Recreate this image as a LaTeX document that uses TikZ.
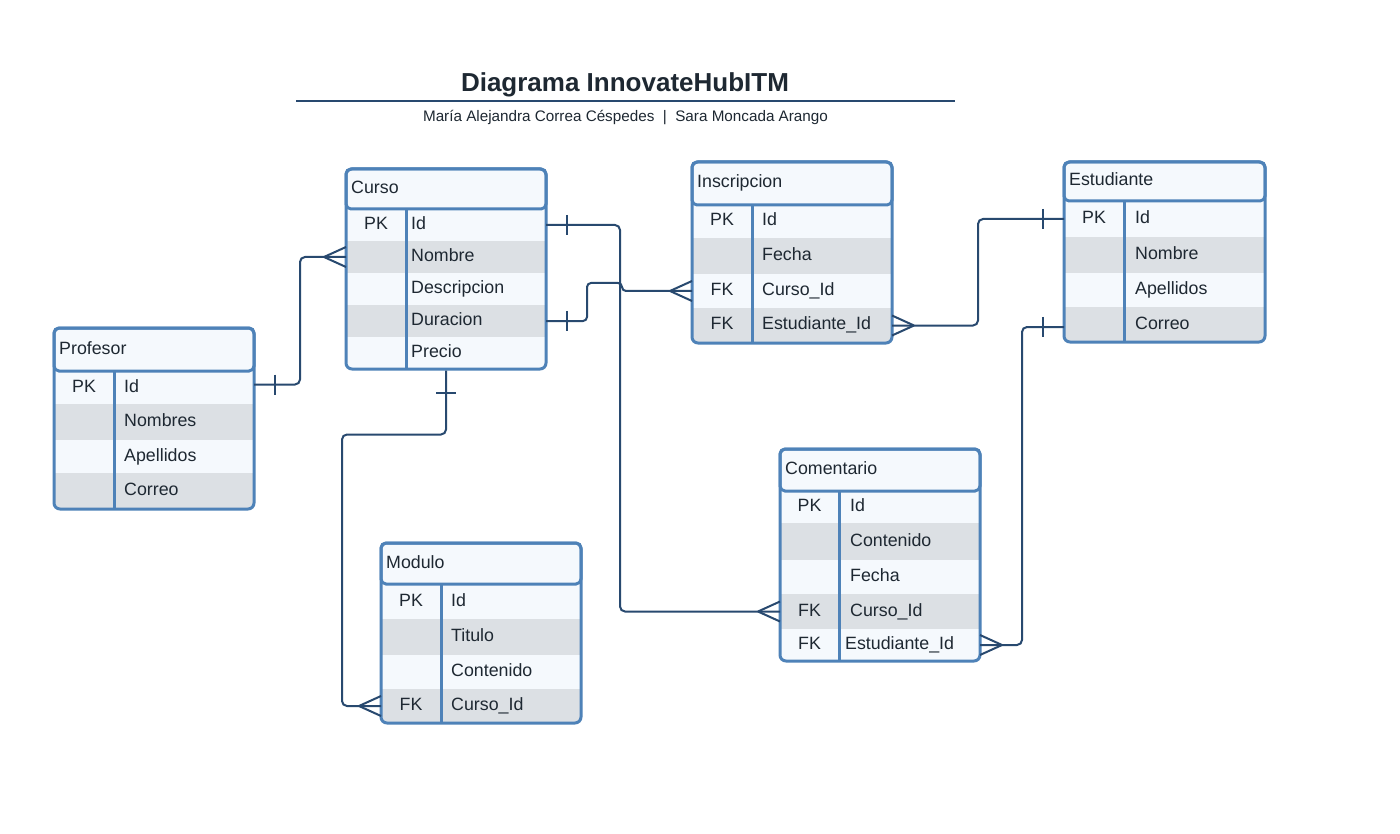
\documentclass[tikz,border=0pt]{standalone}
\usepackage{fontspec}
\setmainfont{Liberation Sans}
\usetikzlibrary{calc}
\definecolor{tblborder}{HTML}{4E82B8}
\definecolor{rowlight}{HTML}{F5F9FD}
\definecolor{rowgray}{HTML}{DCE0E4}
\definecolor{connblue}{HTML}{28496F}
\definecolor{ink}{HTML}{1E2832}
\tikzset{
  rowbox/.style={draw=none, inner sep=0pt, outer sep=0pt},
  keytext/.style={inner sep=0pt, text height=12.7pt, text depth=3.7pt, font=\fontsize{17.8}{20}\selectfont, text=ink},
  fieldtext/.style={keytext, anchor=west},
  headtext/.style={keytext, anchor=west},
  tblframe/.style={draw=tblborder, line width=3pt, rounded corners=6pt, inner sep=0pt},
  headbox/.style={draw=tblborder, fill=rowlight, line width=3pt, rounded corners=5pt, inner sep=0pt},
  divline/.style={draw=tblborder, line width=3pt},
  conn/.style={draw=connblue, line width=2pt, rounded corners=5pt},
  endline/.style={draw=connblue, line width=2pt},
}
\def\fieldoff{10}
% row: name, x1, xdiv, x2, ytop, ybot, fill, key, field
\newcommand\erRow[9]{%
  \node[rowbox, fill=#7, minimum width={(#4-#2)*1pt}, minimum height={(#6-#5)*1pt}] (#1) at ({(#2+#4)/2},{(#5+#6)/2}) {};
  \node[keytext] (#1-k) at ({(#2+#3)/2},{(#5+#6)/2}) {#8};
  \node[fieldtext] (#1-f) at ({#3+\fieldoff},{(#5+#6)/2}) {#9};
}
% table frame: name, x1, xdiv, x2, ytop, yhb, ybot, title
\newcommand\erHead[8]{%
  \node[headbox, minimum width={(#4-#2)*1pt}, minimum height={(#6-#5)*1pt}] (#1-head) at ({(#2+#4)/2},{(#5+#6)/2}) {};
  \node[headtext] (#1-title) at ({#2+5},{(#5+#6)/2}) {#8};
  \draw[divline] (#3,#6) -- (#3,#7);
  \node[tblframe, minimum width={(#4-#2)*1pt}, minimum height={(#7-#5)*1pt}] (#1) at ({(#2+#4)/2},{(#5+#7)/2}) {};
}
\newcommand\erCrowW[1]{\draw[endline] ($(#1)+(-22,0)$) -- ($(#1)+(0,-10)$) ($(#1)+(-22,0)$) -- ($(#1)+(0,10)$);}
\newcommand\erCrowE[1]{\draw[endline] ($(#1)+(22,0)$) -- ($(#1)+(0,-10)$) ($(#1)+(22,0)$) -- ($(#1)+(0,10)$);}
\newcommand\erBarW[1]{\draw[endline] ($(#1)+(-21,-10)$) -- ($(#1)+(-21,10)$);}
\newcommand\erBarE[1]{\draw[endline] ($(#1)+(21,-10)$) -- ($(#1)+(21,10)$);}
\newcommand\erBarS[1]{\draw[endline] ($(#1)+(-10,22)$) -- ($(#1)+(10,22)$);}
\begin{document}
\begin{tikzpicture}[x=1pt,y=-1pt]
\useasboundingbox[fill=white] (0,0) rectangle (1400,834);

% Title
\node[font=\fontsize{26}{30}\selectfont\bfseries, text=ink, inner sep=0pt] (title) at (625,84.5) {Diagrama InnovateHubITM};
\coordinate (tl) at (296,101);
\coordinate (tr) at (955,101);
\draw[connblue, line width=2pt] (tl) -- (tr);
\node[font=\fontsize{15.25}{18}\selectfont, text=ink, inner sep=0pt] (subtitle) at (625.5,117.5) {María Alejandra Correa Céspedes\ \ |\ \ Sara Moncada Arango};

% Curso
\def\fieldoff{5}
\begin{scope}
\clip[rounded corners=6pt] (346,169) rectangle (546,369);
\erRow{curso-id}{346}{406}{546}{209}{241}{rowlight}{PK}{Id}
\erRow{curso-nombre}{346}{406}{546}{241}{273}{rowgray}{}{Nombre}
\erRow{curso-desc}{346}{406}{546}{273}{305}{rowlight}{}{Descripcion}
\erRow{curso-dur}{346}{406}{546}{305}{337}{rowgray}{}{Duracion}
\erRow{curso-precio}{346}{406}{546}{337}{369}{rowlight}{}{Precio}
\end{scope}
\erHead{curso}{346}{406}{546}{169}{209}{369}{Curso}
\def\fieldoff{10}

% Inscripcion
\begin{scope}
\clip[rounded corners=6pt] (692,162) rectangle (892,343);
\erRow{ins-id}{692}{752}{892}{205}{238}{rowlight}{PK}{Id}
\erRow{ins-fecha}{692}{752}{892}{238}{274}{rowgray}{}{Fecha}
\erRow{ins-curso}{692}{752}{892}{274}{308}{rowlight}{FK}{Curso\_Id}
\erRow{ins-est}{692}{752}{892}{308}{343}{rowgray}{FK}{Estudiante\_Id}
\end{scope}
\erHead{ins}{692}{752}{892}{162}{205}{343}{Inscripcion}

% Estudiante
\def\fieldoff{11}
\begin{scope}
\clip[rounded corners=6pt] (1064,162) rectangle (1265,342);
\erRow{est-id}{1064}{1124}{1265}{201}{237}{rowlight}{PK}{Id}
\erRow{est-nombre}{1064}{1124}{1265}{237}{273}{rowgray}{}{Nombre}
\erRow{est-apellidos}{1064}{1124}{1265}{273}{307}{rowlight}{}{Apellidos}
\erRow{est-correo}{1064}{1124}{1265}{307}{342}{rowgray}{}{Correo}
\end{scope}
\erHead{est}{1064}{1124}{1265}{162}{201}{342}{Estudiante}
\def\fieldoff{10}

% Profesor
\begin{scope}
\clip[rounded corners=6pt] (54,328) rectangle (254,509);
\erRow{prof-id}{54}{114}{254}{371}{404}{rowlight}{PK}{Id}
\erRow{prof-nombres}{54}{114}{254}{404}{440}{rowgray}{}{Nombres}
\erRow{prof-apellidos}{54}{114}{254}{440}{473}{rowlight}{}{Apellidos}
\erRow{prof-correo}{54}{114}{254}{473}{509}{rowgray}{}{Correo}
\end{scope}
\erHead{prof}{54}{114}{254}{328}{371}{509}{Profesor}

% Modulo
\begin{scope}
\clip[rounded corners=6pt] (381,543) rectangle (581,723);
\erRow{mod-id}{381}{441}{581}{584}{619}{rowlight}{PK}{Id}
\erRow{mod-titulo}{381}{441}{581}{619}{655}{rowgray}{}{Titulo}
\erRow{mod-contenido}{381}{441}{581}{655}{689}{rowlight}{}{Contenido}
\erRow{mod-curso}{381}{441}{581}{689}{723}{rowgray}{FK}{Curso\_Id}
\end{scope}
\erHead{mod}{381}{441}{581}{543}{584}{723}{Modulo}

% Comentario
\def\fieldoff{11}
\begin{scope}
\clip[rounded corners=6pt] (780,449) rectangle (980,661);
\erRow{com-id}{780}{839}{980}{491}{523}{rowlight}{PK}{Id}
\erRow{com-contenido}{780}{839}{980}{523}{560}{rowgray}{}{Contenido}
\erRow{com-fecha}{780}{839}{980}{560}{594}{rowlight}{}{Fecha}
\erRow{com-curso}{780}{839}{980}{594}{629}{rowgray}{FK}{Curso\_Id}
\def\fieldoff{6}
\erRow{com-est}{780}{839}{980}{629}{661}{rowlight}{FK}{Estudiante\_Id}
\end{scope}
\erHead{com}{780}{839}{980}{449}{491}{661}{Comentario}
\def\fieldoff{10}

% Connectors
% Profesor.Id -> Curso
\draw[conn] ([yshift=3pt]prof-id.east) -- ++(46,0) |- (curso-nombre.west);
\erBarE{[yshift=3pt]prof-id.east}
\erCrowW{curso-nombre.west}

% Curso.Id -> Comentario.Curso_Id
\draw[conn] (curso-id.east) -- ++(74,0) |- (com-curso.west);
\erBarE{curso-id.east}
\erCrowW{com-curso.west}

% Curso.Duracion -> Inscripcion.Curso_Id
\draw[conn, rounded corners=4pt] (curso-dur.east) -| ++(41,-38) -- ++(35,0) |- (ins-curso.west);
\erBarE{curso-dur.east}
\erCrowW{ins-curso.west}

% Inscripcion.Estudiante_Id -> Estudiante.Id
\draw[conn] (ins-est.east) -- ++(86,0) |- (est-id.west);
\erCrowE{ins-est.east}
\erBarW{est-id.west}

% Comentario.Estudiante_Id -> Estudiante.Correo
\draw[conn] (com-est.east) -- ++(42,0) |- ([yshift=-2.5pt]est-correo.west);
\erCrowE{com-est.east}
\erBarW{[yshift=-2.5pt]est-correo.west}

% Curso -> Modulo.Curso_Id
\draw[conn] (curso.south) |- ++(-104,64) |- (mod-curso.west);
\erBarS{curso.south}
\erCrowW{mod-curso.west}
\end{tikzpicture}
\end{document}
